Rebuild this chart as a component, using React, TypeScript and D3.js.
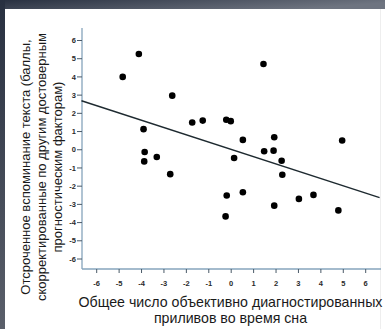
import React from 'react';
import * as d3 from 'd3';

const width = 385;
const height = 329;
const x0 = 82;
const y0 = 269;

// number of hot flashes vs adjusted recall score
const flashes = [-4.84, -4.12, -2.63, -3.91, -3.86, -3.88, -3.32, -2.72, -1.74, -1.27, -0.22, -0.02, 0.52, 0.13,
  1.44, 1.92, 1.47, 1.89, 2.25, 2.28, 4.95, -0.2, -0.25, 0.52, 1.92, 3.02, 3.67, 4.78];
const recall = [4.0, 5.26, 2.97, 1.13, -0.12, -0.64, -0.4, -1.34, 1.5, 1.6, 1.65, 1.57, 0.54, -0.45,
  4.71, 0.69, -0.08, -0.05, -0.6, -1.37, 0.51, -2.51, -3.66, -2.33, -3.07, -2.7, -2.48, -3.33];
const ticks = [-6, -5, -4, -3, -2, -1, 0, 1, 2, 3, 4, 5, 6];
const fitX = [-6.68, 6.62];
const fitIntercept = 0.02;
const fitSlope = -0.4;

const yTitle = ['Отсроченное вспоминание текста (баллы,', 'скорректированные по другим достоверным', 'прогностическим факторам)'];
const xTitle = ['Общее число объективно диагностированных', 'приливов во время сна'];

const font = '"Liberation Sans", Arial, sans-serif';
const axisCol = '#86a4bc';

export default function App() {
  const xScale = d3.scaleLinear().domain([-6, 6]).range([96.7, 365.7]);
  const yScale = d3.scaleLinear().domain([-6, 6]).range([259, 40.5]);
  const line = d3.line<number>().x(d => xScale(d)).y(d => yScale(fitIntercept + fitSlope * d));

  return (
    <svg width={width} height={height} style={{position: 'absolute', left: 0, top: 0}}>
      <defs>
        <linearGradient id="bg" x1="0" y1="0" x2="1" y2="0.3">
          <stop offset="0" stopColor="#283040"/>
          <stop offset="1" stopColor="#6e7480"/>
        </linearGradient>
        <linearGradient id="side" x1="0" y1="0" x2="0" y2="1">
          <stop offset="0" stopColor="#283040"/>
          <stop offset="1" stopColor="#5a5f6a"/>
        </linearGradient>
      </defs>
      <rect width={width} height={9} fill="url(#bg)"/>
      <rect width={5} height={height} fill="url(#side)"/>
      <rect x={5} y={9} width={width - 5} height={height - 9} fill="#fff"/>
      <line x1={380.5} x2={380.5} y1={9} y2={height} stroke="#eee"/>

      {/* axes */}
      <line x1={x0} x2={x0} y1={28} y2={y0} stroke={axisCol} strokeWidth={1.3}/>
      <line x1={x0} x2={381} y1={y0} y2={y0} stroke={axisCol} strokeWidth={1.3}/>
      {ticks.map(t => (
        <g key={'y' + t}>
          <line x1={x0 - 5} x2={x0} y1={yScale(t)} y2={yScale(t)} stroke="#4a5a68" strokeWidth={1}/>
          <text x={x0 - 6} y={yScale(t)} dy="0.35em" textAnchor="end" fontFamily={font} fontSize={7.5}
                fontWeight="bold" fill="#2a2a2a">{t}</text>
        </g>
      ))}
      {ticks.map(t => (
        <g key={'x' + t}>
          <line x1={xScale(t)} x2={xScale(t)} y1={y0} y2={y0 + 4} stroke="#4a5a68" strokeWidth={1}/>
          <text x={xScale(t)} y={283} dy="0.35em" textAnchor="middle" fontFamily={font} fontSize={7.5}
                fontWeight="bold" fill="#2a2a2a">{t}</text>
        </g>
      ))}

      <path d={line(fitX) || ''} fill="none" stroke="#1e2a30" strokeWidth={1.4}/>
      {flashes.map((f, i) => (
        <circle key={i} cx={xScale(f)} cy={yScale(recall[i])} r={3.3} fill="#000"/>
      ))}

      {/* titles */}
      {yTitle.map((s, i) => (
        <text key={s} transform={`translate(${29.5 + i * 16},167) rotate(-90)`} textAnchor="middle"
              fontFamily={font} fontSize={13} fill="#1a1a1a">{s}</text>
      ))}
      {xTitle.map((s, i) => (
        <text key={s} x={230.5} y={307 + i * 15.5} textAnchor="middle" fontFamily={font} fontSize={14.2}
              fill="#1a1a1a">{s}</text>
      ))}
    </svg>
  );
}
